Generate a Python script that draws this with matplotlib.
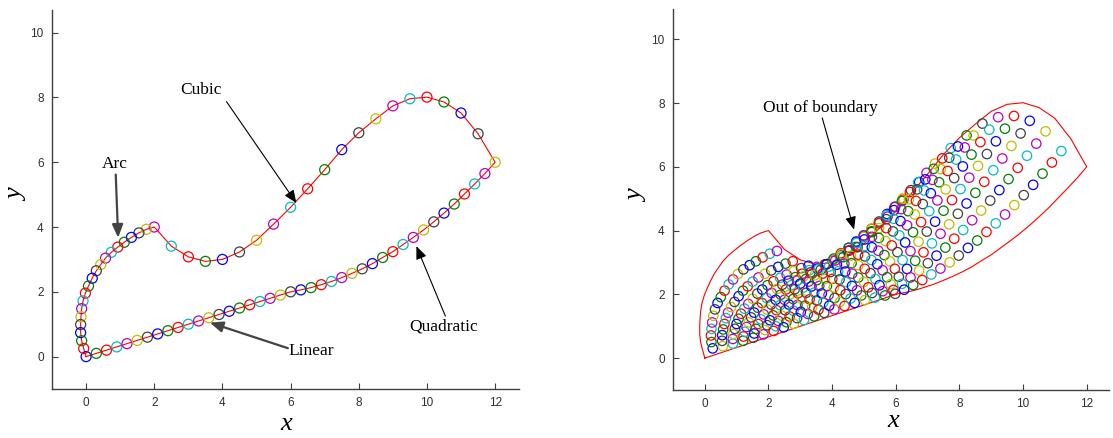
import numpy as np
import matplotlib
matplotlib.use("Agg")
import matplotlib.pyplot as plt

# ---------------- boundary data ----------------
# Linear segment (0,0) -> (6,2)
lin_x = [0.0, 0.3, 0.6, 0.9, 1.2, 1.5, 1.8, 2.1, 2.4, 2.7, 3.0, 3.3, 3.6, 3.9, 4.2, 4.5, 4.8, 5.1, 5.4, 5.7, 6.0]
lin_y = [0.0, 0.1, 0.2, 0.3, 0.4, 0.5, 0.6, 0.7, 0.8, 0.9, 1.0, 1.1, 1.2, 1.3, 1.4, 1.5, 1.6, 1.7, 1.8, 1.9, 2.0]
# Quadratic segment (6,2) -> (12,6)
quad_x = [6.0, 6.3, 6.6, 6.9, 7.2, 7.5, 7.8, 8.1, 8.4, 8.7, 9.0, 9.3, 9.6, 9.9, 10.2, 10.5, 10.8, 11.1, 11.4, 11.7, 12.0]
quad_y = [2.00, 2.06, 2.13, 2.22, 2.32, 2.44, 2.57, 2.71, 2.87, 3.06, 3.24, 3.46, 3.68, 3.91, 4.16, 4.43, 4.71, 5.02, 5.33, 5.65, 6.00]
# Cubic segment (2,4) -> (12,6)
cubic_x = [2.0, 2.5, 3.0, 3.5, 4.0, 4.5, 5.0, 5.5, 6.0, 6.5, 7.0, 7.5, 8.0, 8.5, 9.0, 9.5, 10.0, 10.5, 11.0, 11.5, 12.0]
cubic_y = [4.00, 3.41, 3.08, 2.94, 3.00, 3.23, 3.59, 4.09, 4.61, 5.18, 5.77, 6.39, 6.91, 7.34, 7.74, 7.96, 8.01, 7.86, 7.52, 6.88, 6.00]
# Arc segment (0,0) -> (2,4)
arc_x = [0.00, -0.07, -0.13, -0.16, -0.16, -0.15, -0.13, -0.09, -0.02, 0.07, 0.18, 0.30, 0.43, 0.57, 0.74, 0.93, 1.12, 1.33, 1.55, 1.77, 2.00]
arc_y = [0.00, 0.25, 0.49, 0.74, 0.99, 1.23, 1.48, 1.72, 1.96, 2.18, 2.42, 2.65, 2.84, 3.04, 3.22, 3.38, 3.53, 3.68, 3.82, 3.93, 4.00]

color_cycle = [(0, 0, 1), (0, 0.5, 0), (1, 0, 0), (0, 0.75, 0.75),
               (0.75, 0, 0.75), (0.75, 0.75, 0), (0.25, 0.25, 0.25)]

tick_vals_x = [0, 2, 4, 6, 8, 10, 12]
tick_vals_y = [0, 2, 4, 6, 8, 10]

# Annotations: (text, text position, arrow start, arrow tip, arrow style)
left_notes = [
    ("Cubic", (3.38, 8.23), (4.12, 7.87), (6.17, 4.74), "thin"),
    ("Arc", (0.85, 5.95), (0.87, 5.62), (0.94, 3.67), "thick"),
    ("Linear", (6.6, 0.17), (5.92, 0.26), (3.63, 1.05), "thick"),
    ("Quadratic", (10.5, 0.92), (10.54, 1.25), (9.69, 3.41), "thin"),
]
right_notes = [
    ("Out of boundary", (3.64, 7.85), (3.69, 7.53), (4.69, 4.03), "thin"),
]

# ---------------- assemble ----------------
lin = np.column_stack([lin_x, lin_y])
quad = np.column_stack([quad_x, quad_y])
cub = np.column_stack([cubic_x, cubic_y])
arc = np.column_stack([arc_x, arc_y])

# closed boundary loop, in drawing order
loop = np.vstack([lin, quad[1:], cub[::-1][1:], arc[::-1][1:]])
loop_pts = loop[:-1]  # last point coincides with the first

# interior grid: transfinite (Coons) patch built on the boundary samples
n = len(lin) - 1
B, T, L, R = lin, cub, arc, quad
grid = []
for i in range(1, n):
    u = i / n
    for j in range(1, n):
        v = j / n
        p = ((1 - v) * B[i] + v * T[i] + (1 - u) * L[j] + u * R[j]
             - ((1 - u) * (1 - v) * B[0] + u * (1 - v) * B[n]
                + (1 - u) * v * T[0] + u * v * T[n]))
        grid.append(p)
grid = np.array(grid)

plt.rcParams['font.family'] = ['Liberation Sans', 'DejaVu Sans']

W, H = 1113, 438
fig = plt.figure(figsize=(W / 100, H / 100), dpi=100)
axL = fig.add_axes([52 / W, 49 / H, 467 / W, 379 / H])
axR = fig.add_axes([673 / W, 48 / H, 436 / W, 381 / H])

axis_col = '#404040'


def style(ax, ylim):
    ax.set_xlim(-1, 12.7)
    ax.set_ylim(*ylim)
    ax.set_xticks(tick_vals_x)
    ax.set_yticks(tick_vals_y)
    for s in ('top', 'right'):
        ax.spines[s].set_visible(False)
    for s in ('left', 'bottom'):
        ax.spines[s].set_color(axis_col)
        ax.spines[s].set_linewidth(1.0)
    ax.tick_params(direction='in', length=4, width=0.8, colors=axis_col,
                   labelsize=8.5, labelcolor='#303030', pad=6)


def label(px, py, txt, rot=0):
    fig.text(px / W, 1 - py / H, txt, family='Liberation Serif', style='italic',
             fontsize=19, ha='center', va='center', rotation=rot)


def notes(ax, items):
    for txt, tpos, start, tip, kind in items:
        ax.text(tpos[0], tpos[1], txt, family='Liberation Serif', fontsize=12.5,
                ha='center', va='center', color='black')
        if kind == 'thin':
            props = dict(arrowstyle='-|>,head_length=0.6,head_width=0.25',
                         color='black', lw=0.8, mutation_scale=13,
                         shrinkA=0, shrinkB=0)
        else:
            props = dict(arrowstyle='-|>,head_length=0.6,head_width=0.25',
                         color='#444444', lw=1.6, mutation_scale=13,
                         shrinkA=0, shrinkB=0)
        ax.annotate('', xy=tip, xytext=start, arrowprops=props)


# ---------------- left panel ----------------
closed = np.vstack([loop, loop[:1]])
axL.plot(closed[:, 0], closed[:, 1], color='red', lw=0.8, zorder=2)
cols = [color_cycle[k % 7] for k in range(len(loop_pts))]
axL.scatter(loop_pts[:, 0], loop_pts[:, 1], s=52, facecolors='none',
            edgecolors=cols, linewidths=0.9, zorder=3)
style(axL, (-1, 10.7))
notes(axL, left_notes)

# ---------------- right panel ----------------
axR.plot(closed[:, 0], closed[:, 1], color='red', lw=0.8, zorder=2)
gcols = [color_cycle[k % 7] for k in range(len(grid))]
axR.scatter(grid[:, 0], grid[:, 1], s=46, facecolors='none',
            edgecolors=gcols, linewidths=0.9, zorder=3)
style(axR, (-1, 10.95))
notes(axR, right_notes)

# axis labels
label(286, 424, 'x')
label(17, 195, 'y', rot=90)
label(893, 421, 'x')
label(637, 196, 'y', rot=90)

fig.savefig('out.png', dpi=100)
